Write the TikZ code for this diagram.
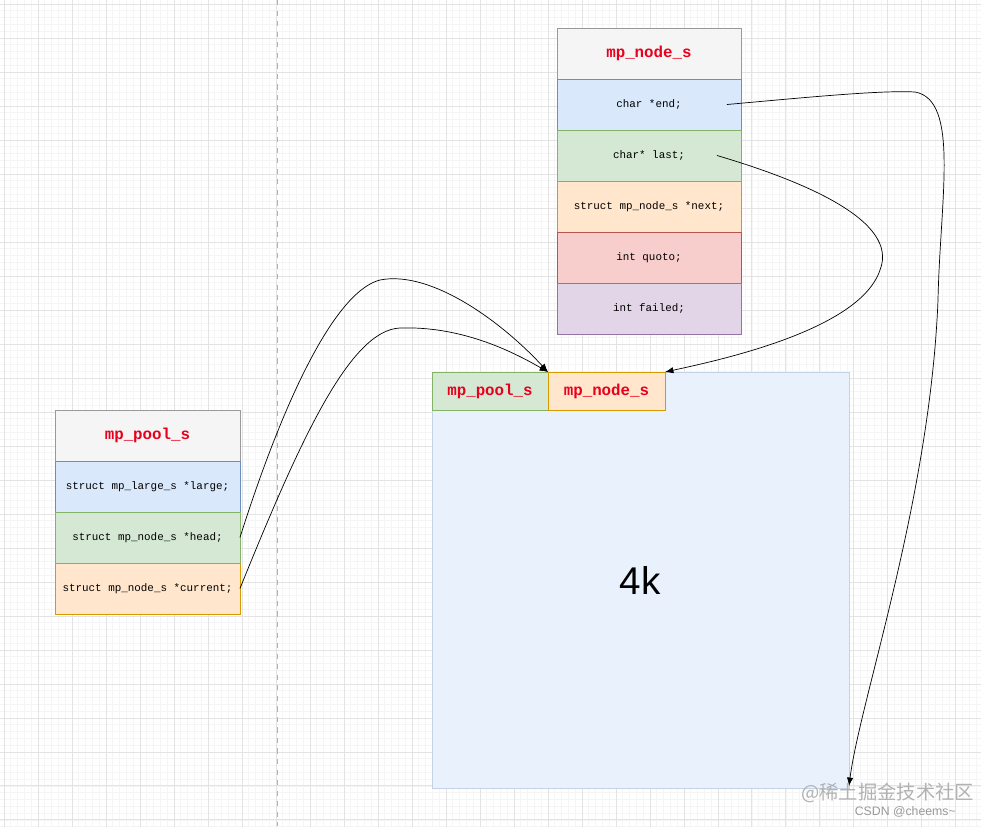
\documentclass[tikz,border=0pt]{standalone}
\usepackage{fontspec}
\setmainfont{Liberation Serif}
\newfontfamily\codefont{Liberation Mono}
\newfontfamily\cjk{Noto Sans CJK SC}
\newfontfamily\sansfont{Liberation Sans}
\usetikzlibrary{positioning, arrows.meta}

\definecolor{titlefill}{HTML}{F5F5F5}
\definecolor{bluefill}{HTML}{DAE8FC}
\definecolor{blueline}{HTML}{6C8EBF}
\definecolor{greenfill}{HTML}{D5E8D4}
\definecolor{greenline}{HTML}{82B366}
\definecolor{orangefill}{HTML}{FFE6CC}
\definecolor{orangeline}{HTML}{D79B00}
\definecolor{redfill}{HTML}{F8CECC}
\definecolor{redline}{HTML}{B85450}
\definecolor{purplefill}{HTML}{E1D5E7}
\definecolor{purpleline}{HTML}{9673A6}
\definecolor{titlered}{HTML}{E8001C}

\tikzset{
	field/.style={draw, rectangle, minimum width=3.68cm, minimum height=1.02cm, inner sep=0pt, outer sep=0pt, anchor=north west, font=\codefont\fontsize{6.2}{7}\selectfont},
	titlefield/.style={field, fill=titlefill, draw=gray!80, text=titlered, font=\codefont\bfseries\fontsize{9}{10}\selectfont},
	bluefield/.style={field, fill=bluefill, draw=blueline},
	greenfield/.style={field, fill=greenfill, draw=greenline},
	orangefield/.style={field, fill=orangefill, draw=orangeline},
	redfield/.style={field, fill=redfill, draw=redline},
	purplefield/.style={field, fill=purplefill, draw=purpleline},
}

\begin{document}
\begin{tikzpicture}[x=0.02cm, y=-0.02cm, >=Latex]
	% Background and grid
	\useasboundingbox (0,0) rectangle (981,826);
	\clip (0,0) rectangle (981,826);
	\fill[white] (0,0) rectangle (981,826);
	\draw[gray!8, step=0.136cm, shift={(4,4)}] (-4,-4) grid (981,826);
	\draw[gray!22, step=0.68cm, shift={(4,4)}] (-4,-4) grid (981,826);
	\draw[gray!60, dashed] (277,0) -- (277,826);
	
	% Memory block
	\node [draw=blueline!40, fill=bluefill!60, minimum width=8.34cm, minimum height=8.32cm, inner sep=0pt, anchor=north west] (block) at (432,372) {};
	\node [font=\sansfont\fontsize{22}{24}\selectfont] (size) at (640,580) {4k};
	\node [greenfield, minimum width=2.32cm, minimum height=0.76cm, text=titlered, font=\codefont\bfseries\fontsize{9}{10}\selectfont] (hpool) at (432,372) {mp\_pool\_s};
	\node [orangefield, minimum width=2.34cm, minimum height=0.76cm, text=titlered, font=\codefont\bfseries\fontsize{9}{10}\selectfont] (hnode) at (548,372) {mp\_node\_s};
	
	% mp_node_s struct
	\node [titlefield] (ntitle) at (557,28) {mp\_node\_s};
	\node [bluefield] (nend) at (557,79) {char *end;};
	\node [greenfield] (nlast) at (557,130) {char* last;};
	\node [orangefield] (nnext) at (557,181) {struct mp\_node\_s *next;};
	\node [redfield] (nquoto) at (557,232) {int quoto;};
	\node [purplefield] (nfailed) at (557,283) {int failed;};
	
	% mp_pool_s struct
	\node [titlefield, minimum width=3.7cm] (ptitle) at (55,410) {mp\_pool\_s};
	\node [bluefield, minimum width=3.7cm] (plarge) at (55,461) {struct mp\_large\_s *large;};
	\node [greenfield, minimum width=3.7cm] (phead) at (55,512) {struct mp\_node\_s *head;};
	\node [orangefield, minimum width=3.7cm] (pcurrent) at (55,563) {struct mp\_node\_s *current;};
	
	% Pointers
	\coordinate (blockend) at (849,786);
	\draw[->] ([xshift=-0.28cm]nend.east) .. controls (800,98) and (880,90) .. (915,92)
		.. controls (960,100) and (940,200) .. (938,300) .. controls (930,500) and (860,700) .. (blockend);
	\draw[->] ([xshift=-0.48cm]nlast.east) .. controls (800,180) and (900,220) .. (880,270)
		.. controls (860,330) and (720,360) .. (hnode.north east);
	\draw[->] (phead.east) .. controls (290,380) and (340,290) .. (380,280)
		.. controls (430,270) and (500,320) .. (hpool.north east);
	\draw[->] (pcurrent.east) .. controls (300,440) and (350,330) .. (400,328)
		.. controls (460,326) and (510,350) .. (hpool.north east);
	
	% Watermark
	\node [text=gray!60, font=\cjk\fontsize{11}{13}\selectfont, anchor=west] (mark) at (795,793) {@稀土掘金技术社区};
	\node [text=gray!80, font=\sansfont\fontsize{7}{8}\selectfont, anchor=east] (csdn) at (962,812) {CSDN @cheems\textasciitilde};
\end{tikzpicture}
\end{document}
